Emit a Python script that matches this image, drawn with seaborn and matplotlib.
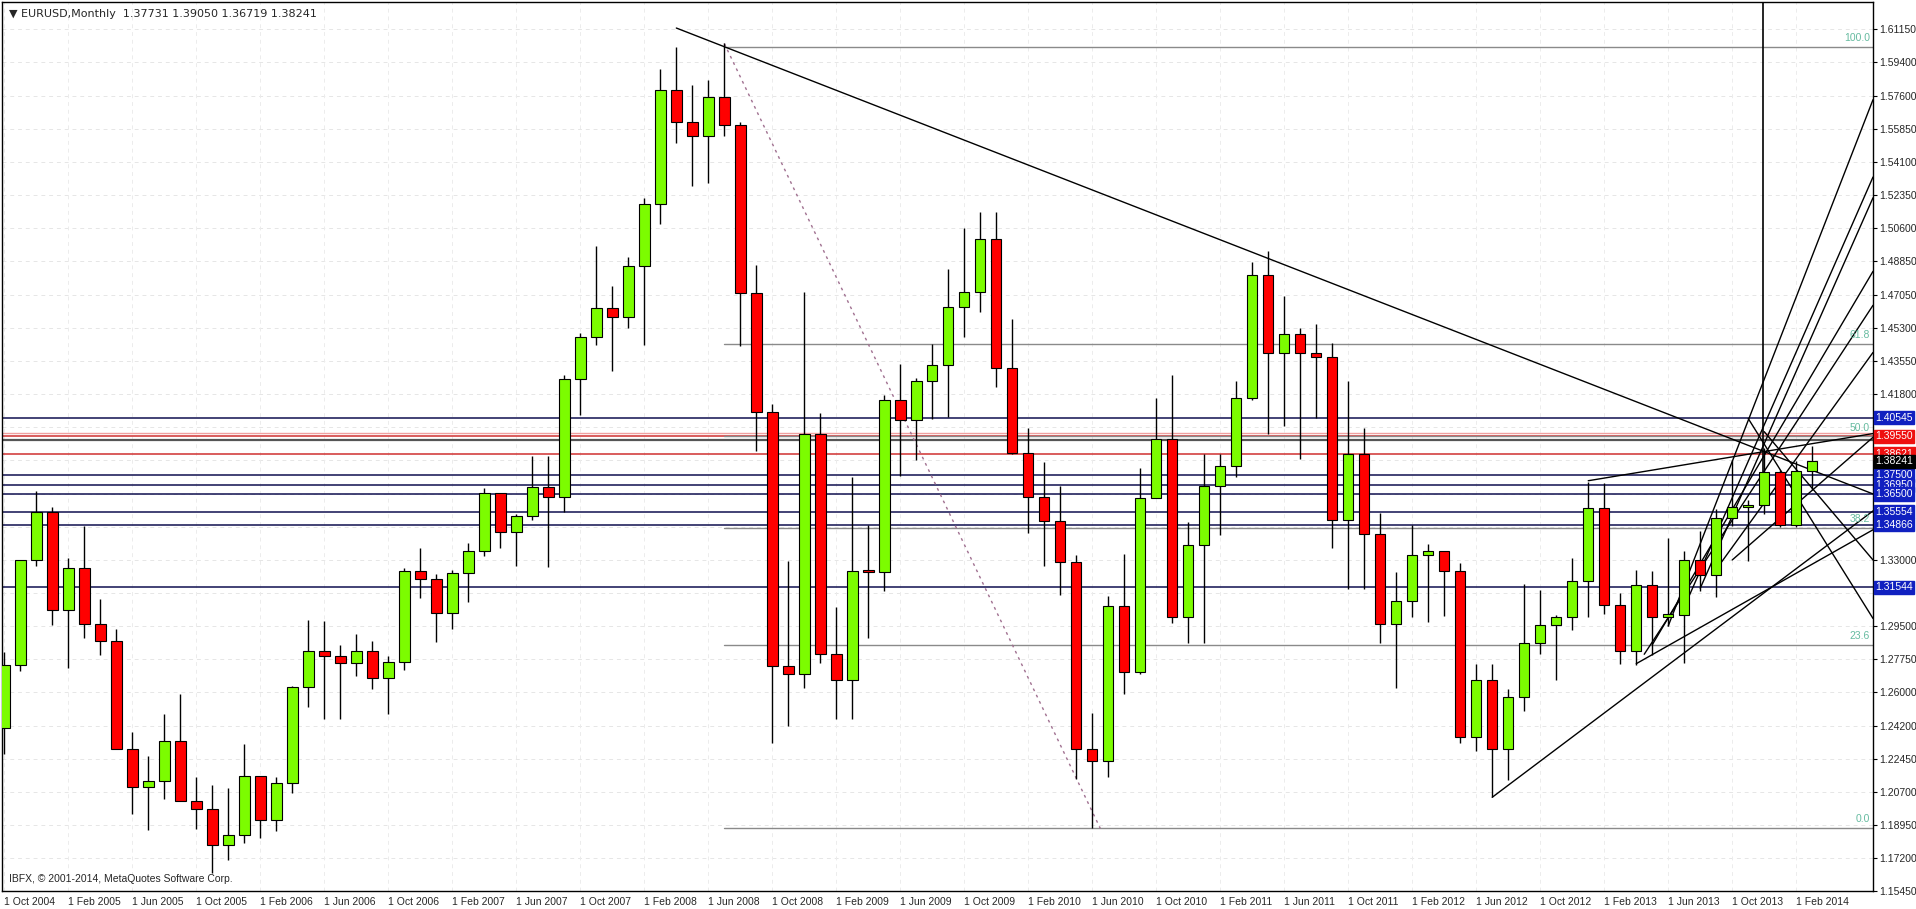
import numpy as np
import pandas as pd
import seaborn as sns
import matplotlib.pyplot as plt
import matplotlib.transforms as mtransforms

# monthly EURUSD, Oct 2004 .. Mar 2014
months = pd.date_range("2004-10-01", "2014-03-01", freq="MS")
opens = [1.2410, 1.2745, 1.3300, 1.3554, 1.3036, 1.3255, 1.2963, 1.2870, 1.2300, 1.2095, 1.2127, 1.2340,
         1.2024, 1.1980, 1.1790, 1.1840, 1.2157, 1.1920, 1.2120, 1.2625, 1.2820, 1.2790, 1.2755, 1.2815,
         1.2676, 1.2760, 1.3240, 1.3200, 1.3020, 1.3230, 1.3350, 1.3655, 1.3450, 1.3535, 1.3685, 1.3635,
         1.4260, 1.4480, 1.4635, 1.4590, 1.4860, 1.5185, 1.5790, 1.5620, 1.5550, 1.5755, 1.5605, 1.4715,
         1.4085, 1.2740, 1.2695, 1.3970, 1.2800, 1.2665, 1.3240, 1.3235, 1.4150, 1.4040, 1.4250, 1.4335,
         1.4640, 1.4720, 1.5000, 1.4320, 1.3865, 1.3635, 1.3505, 1.3290, 1.2300, 1.2235, 1.3055, 1.2705,
         1.3630, 1.3940, 1.3000, 1.3380, 1.3690, 1.3800, 1.4160, 1.4810, 1.4395, 1.4500, 1.4395, 1.4375,
         1.3510, 1.3860, 1.3440, 1.2960, 1.3080, 1.3325, 1.3345, 1.3240, 1.2360, 1.2665, 1.2300, 1.2575,
         1.2860, 1.2955, 1.3000, 1.3190, 1.3575, 1.3060, 1.2815, 1.3165, 1.3000, 1.3010, 1.3300, 1.3220,
         1.3525, 1.3580, 1.3590, 1.3765, 1.3485, 1.37731]
highs = [1.2813, 1.3301, 1.3667, 1.3580, 1.3308, 1.3478, 1.3092, 1.2935, 1.2389, 1.2261, 1.2482, 1.2587,
         1.2148, 1.2109, 1.2092, 1.2323, 1.2155, 1.2150, 1.2631, 1.2980, 1.2978, 1.2847, 1.2908, 1.2870,
         1.2790, 1.3260, 1.3366, 1.3223, 1.3246, 1.3391, 1.3682, 1.3620, 1.3544, 1.3851, 1.3851, 1.4280,
         1.4503, 1.4966, 1.4750, 1.4905, 1.5220, 1.5904, 1.6018, 1.5820, 1.5843, 1.6038, 1.5620, 1.4866,
         1.4125, 1.3295, 1.4720, 1.4077, 1.3050, 1.3738, 1.3487, 1.4177, 1.4339, 1.4262, 1.4446, 1.4843,
         1.5060, 1.5145, 1.5144, 1.4580, 1.4000, 1.3818, 1.3690, 1.3327, 1.2488, 1.3110, 1.3334, 1.3786,
         1.4157, 1.4282, 1.3500, 1.3860, 1.3861, 1.4248, 1.4882, 1.4940, 1.4698, 1.4530, 1.4550, 1.4450,
         1.4247, 1.4000, 1.3550, 1.3235, 1.3487, 1.3386, 1.3283, 1.3283, 1.2747, 1.2747, 1.2614, 1.3172,
         1.3140, 1.3010, 1.3308, 1.3711, 1.3710, 1.3125, 1.3245, 1.3242, 1.3416, 1.3345, 1.3452, 1.3568,
         1.3832, 1.3620, 1.3893, 1.3775, 1.3825, 1.39050]
lows = [1.2270, 1.2710, 1.3266, 1.2953, 1.2727, 1.2885, 1.2798, 1.2305, 1.1952, 1.1868, 1.2033, 1.2020,
        1.1876, 1.1640, 1.1709, 1.1800, 1.1828, 1.1865, 1.2066, 1.2522, 1.2457, 1.2455, 1.2686, 1.2616,
        1.2482, 1.2719, 1.3096, 1.2867, 1.2933, 1.3076, 1.3320, 1.3366, 1.3266, 1.3512, 1.3263, 1.3555,
        1.4070, 1.4440, 1.4300, 1.4528, 1.4440, 1.5080, 1.5510, 1.5285, 1.5300, 1.5545, 1.4434, 1.3880,
        1.2330, 1.2422, 1.2620, 1.2755, 1.2457, 1.2455, 1.2886, 1.3134, 1.3745, 1.3830, 1.4047, 1.4057,
        1.4480, 1.4613, 1.4218, 1.3860, 1.3445, 1.3268, 1.3113, 1.2140, 1.1877, 1.2150, 1.2587, 1.2695,
        1.3690, 1.2968, 1.2860, 1.2860, 1.3430, 1.3738, 1.4148, 1.3968, 1.4010, 1.3837, 1.4050, 1.3363,
        1.3144, 1.3145, 1.2858, 1.2623, 1.3000, 1.2973, 1.3003, 1.2329, 1.2287, 1.2042, 1.2133, 1.2499,
        1.2800, 1.2662, 1.2927, 1.3000, 1.3015, 1.2750, 1.2745, 1.2795, 1.2950, 1.2755, 1.3135, 1.3105,
        1.3481, 1.3295, 1.3545, 1.3477, 1.3475, 1.36719]
closes = opens[1:] + [1.38241]

support_blue = [1.40545, 1.37500, 1.36950, 1.36500, 1.35554, 1.34866, 1.31544]
resist_red = [1.39550, 1.38621]
fib_levels = [1.6020, 1.4445, 1.3955, 1.3470, 1.2850, 1.1880]
fib_names = ["100.0", "61.8", "50.0", "38.2", "23.6", "0.0"]
ytick_vals = [1.61150, 1.59400, 1.57600, 1.55850, 1.54100, 1.52350, 1.50600, 1.48850, 1.47050,
              1.45300, 1.43550, 1.41800, 1.33000, 1.29500, 1.27750, 1.26000, 1.24200, 1.22450,
              1.20700, 1.18950, 1.17200, 1.15450]
grid_extra = [1.40050, 1.38300, 1.36500, 1.34750, 1.31250]

df = pd.DataFrame({"month": months, "open": opens, "high": highs, "low": lows, "close": closes})
df["idx"] = np.arange(len(df))
df["up"] = df["close"] >= df["open"]

sns.set_style("white")
plt.rcParams['font.family'] = ['Liberation Sans', 'DejaVu Sans']

fig = plt.figure(figsize=(19.16, 9.09), dpi=100)
ax = fig.add_axes([2 / 1916, 18 / 909, 1871 / 1916, 889 / 909])
ax.set_xlim(-0.15, 116.8)
ax.set_ylim(1.1545, 1.6258)

# grid
for v in ytick_vals + grid_extra:
    ax.axhline(v, color="#e6e6e6", lw=0.7, ls=(0, (4, 4)), zorder=0)
tick_idx = df["idx"][::4]
for i in tick_idx:
    ax.axvline(i, color="#ececec", lw=0.7, ls=(0, (4, 4)), zorder=0)

# horizontal levels
for v in support_blue:
    ax.axhline(v, color="#101050", lw=1.1, zorder=1)
for v in resist_red:
    ax.axhline(v, color="#d03030", lw=1.1, zorder=1)
ax.axhline(1.3975, color="#f0a0a0", lw=1, zorder=1)
ax.axhline(1.3935, color="#555555", lw=1.6, zorder=1)

# fibonacci
for v, n in zip(fib_levels, fib_names):
    ax.plot([45, 116.8], [v, v], color="#8a8a8a", lw=1, zorder=1)
    ax.text(116.6, v + 0.002, n, color="#66bba0", fontsize=7.5, ha="right", va="bottom")
ax.plot([45, 68.5], [1.6038, 1.1877], color="#a07090", lw=1, ls=(0, (2, 3)), zorder=1)

# trend lines
trend = [((42, 1.6120), (116.8, 1.3650)),
         ((93, 1.2042), (116.8, 1.3560)),
         ((102, 1.2750), (116.8, 1.3460)),
         ((99, 1.3720), (116.8, 1.3970)),
         ((104, 1.2950), (116.8, 1.5740)),
         ((105, 1.3050), (116.8, 1.5330)),
         ((106, 1.3150), (116.8, 1.5220)),
         ((103, 1.2850), (116.8, 1.4830)),
         ((102.5, 1.2800), (116.8, 1.4650)),
         ((107, 1.3250), (116.8, 1.4400)),
         ((109, 1.4050), (116.8, 1.2990)),
         ((110, 1.3980), (116.8, 1.3300)),
         ((108, 1.3300), (116.8, 1.3950))]
for (x0, y0), (x1, y1) in trend:
    ax.plot([x0, x1], [y0, y1], color="black", lw=1, zorder=2)
ax.plot([109.9, 109.9], [1.3750, 1.6258], color="black", lw=1.2, zorder=2)

# candles
ax.vlines(df["idx"], df["low"], df["high"], color="black", lw=1, zorder=3)
body_lo = df[["open", "close"]].min(axis=1)
body_h = (df["close"] - df["open"]).abs().clip(lower=0.0012)
colors = np.where(df["up"], "#7cfc00", "#ff0000")
ax.bar(df["idx"], body_h, bottom=body_lo, width=0.65, color=colors,
       edgecolor="black", linewidth=0.8, zorder=4)

# axes
ax.yaxis.tick_right()
ax.set_yticks(ytick_vals)
ax.set_yticklabels([f"{v:.5f}" for v in ytick_vals], fontsize=7.5)
ax.set_xticks(tick_idx)
ax.set_xticklabels([f"1 {d:%b %Y}" for d in df["month"][::4]], fontsize=7.5, ha="left")
ax.tick_params(axis="both", length=3, width=0.8, color="black", pad=1.5)
for s in ax.spines.values():
    s.set_color("black")
    s.set_linewidth(1)

# price boxes on the right
trans = mtransforms.blended_transform_factory(ax.transAxes, ax.transData)
boxes = [(v, "#1020c0") for v in support_blue] + [(1.39550, "#ee1010"), (1.38621, "#ee1010"), (1.38241, "black")]
for v, c in boxes:
    ax.text(1.0012, v, f"{v:.5f}", transform=trans, fontsize=7.5, color="white", va="center", ha="left",
            bbox=dict(boxstyle="square,pad=0.15", fc=c, ec=c), clip_on=False, zorder=6)

ax.text(0.004, 0.992, "\u25bc EURUSD,Monthly  1.37731 1.39050 1.36719 1.38241", transform=ax.transAxes,
        fontsize=8, va="top", ha="left", family=['DejaVu Sans'])
ax.text(0.004, 0.008, "IBFX, \u00a9 2001-2014, MetaQuotes Software Corp.", transform=ax.transAxes,
        fontsize=7.5, va="bottom", ha="left")

fig.savefig("out.png", dpi=100)
